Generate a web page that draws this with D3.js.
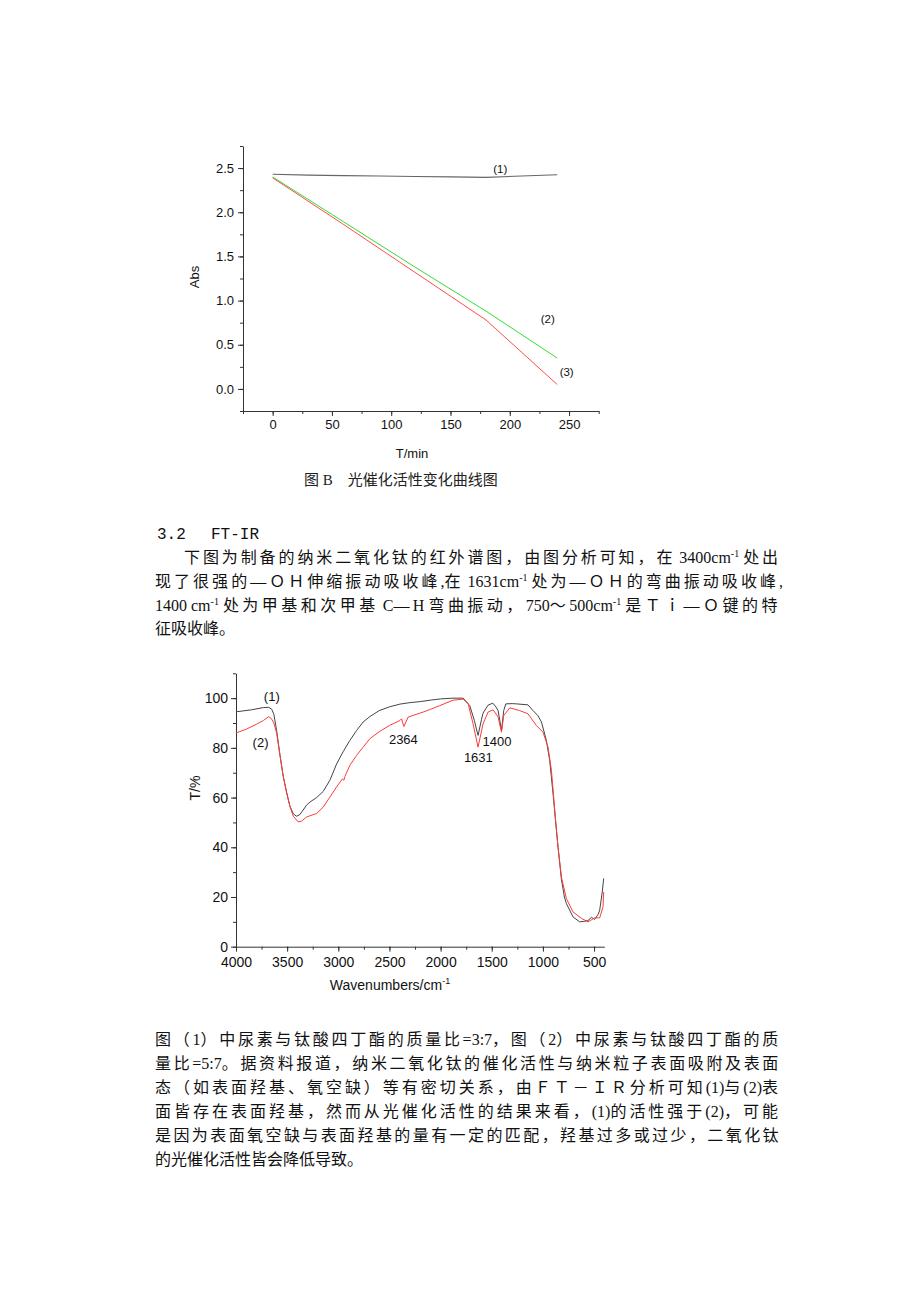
<!DOCTYPE html>
<html><head><meta charset="utf-8">
<script src="https://cdn.jsdelivr.net/npm/d3@7"></script>
<style>
body{margin:0;background:#fff;}
svg{display:block;}
</style></head>
<body>
<svg id="page" width="920" height="1302"></svg>
<script>
// ---------- Chart B data ----------
const timeMin = [0, 30, 60, 90, 120, 150, 180, 210, 240];
const abs1 = [2.43, 2.42, 2.415, 2.41, 2.405, 2.40, 2.395, 2.41, 2.425];
const time2 = [0, 60, 120, 180, 240];
const abs2 = [2.40, 1.89, 1.38, 0.88, 0.35];
const abs3 = [2.39, 1.86, 1.32, 0.78, 0.05];
const bXTicks = [0, 50, 100, 150, 200, 250];
const bYTicks = [0.0, 0.5, 1.0, 1.5, 2.0, 2.5];

// ---------- FT-IR data ----------
const wn1 = [4000,3850,3733,3680,3650,3630,3603,3570,3538,3505,3473,3440,3410,3380,3343,3310,3277,3212,3147,3082,3017,2952,2887,2821,2757,2691,2600,2500,2398,2300,2200,2100,2000,1878,1780,1715,1670,1634,1600,1585,1536,1490,1460,1438,1405,1383,1363,1300,1259,1146,1097,1050,1015,966,934,901,868,852,819,790,771,706,641,600,560,526,494,460,445,420,406];
const t1  = [94.5,95.3,96.2,96.3,95.5,93.5,87,77,68.5,62,56.5,53.5,52.5,53,55,57,58.2,60,62.5,67,73.5,78.5,83,87,90.4,92.6,95,96.5,97.6,98.2,98.6,99.2,99.7,100,100,97,91,85,91.5,94,97.2,98,96.5,95,87,95,97.7,97.8,97.7,97.3,95,93,90.5,83,75,61.6,47,40,27,20,17.4,12,10,10.2,10.5,11.8,11,13,14.7,22,27.5];
const wn2 = [4000,3900,3800,3733,3680,3650,3630,3603,3570,3538,3505,3473,3440,3392,3360,3310,3212,3147,3082,3017,2960,2945,2935,2887,2821,2757,2691,2600,2500,2398,2382,2359,2317,2171,2100,2008,1878,1780,1731,1683,1634,1585,1536,1487,1438,1405,1383,1324,1227,1146,1064,999,950,917,868,852,819,771,706,624,559,494,445,413,406];
const t2  = [86,87.5,89.5,91,92.6,91.5,90,86,77,68.5,62,56.5,52.5,50.2,50.5,52.2,53.6,56.2,60.2,64.3,67.5,67,68.5,73,77,80.3,83.7,86.5,89,91,91.7,88.6,92.4,94.4,95.5,97,99.2,99.6,97.8,89.7,80.3,89.7,94.4,95.3,92.4,86.3,93,96.1,95,93.7,89,86.3,80.3,71,47,40,28,19.4,14,11.4,10,11.6,11.6,16,22];
const irXTicks = [4000,3500,3000,2500,2000,1500,1000,500];
const irYTicks = [0,20,40,60,80,100];
const irPeaks = ["2364","1631","1400"];

// ---------- Text ----------
const para1 = [
  ["下图为制备的纳米二氧化钛的红外谱图，由图分析可知，在 3400cm","^-1"," 处出"],
  ["现了很强的—ＯＨ伸缩振动吸收峰,在 1631cm","^-1"," 处为—ＯＨ的弯曲振动吸收峰,"],
  ["1400 cm","^-1"," 处为甲基和次甲基 C—H 弯曲振动，750～500cm","^-1"," 是Ｔｉ—Ｏ键的特"],
  ["征吸收峰。"]
];
const para2 = [
  ["图（1）中尿素与钛酸四丁酯的质量比=3:7，图（2）中尿素与钛酸四丁酯的质"],
  ["量比=5:7。据资料报道，纳米二氧化钛的催化活性与纳米粒子表面吸附及表面"],
  ["态（如表面羟基、氧空缺）等有密切关系，由ＦＴ－ＩＲ分析可知(1)与(2)表"],
  ["面皆存在表面羟基，然而从光催化活性的结果来看，(1)的活性强于(2)，可能"],
  ["是因为表面氧空缺与表面羟基的量有一定的匹配，羟基过多或过少，二氧化钛"],
  ["的光催化活性皆会降低导致。"]
];

const svg = d3.select("#page");
svg.append("rect").attr("width",920).attr("height",1302).attr("fill","#fff");
const SANS = "'Liberation Sans', Arial, sans-serif";
const SERIF = "'Liberation Serif', 'Noto Sans CJK SC', serif";
const MONO = "'Liberation Mono', 'DejaVu Sans Mono', monospace";

function drawAxis(g, axis, minorAxis, fontSize){
  g.call(minorAxis).selectAll("text").remove();
  g.select(".domain").remove();
  const m = g.append("g").call(axis);
  m.selectAll("text").attr("font-family",SANS).attr("font-size",fontSize).attr("fill","#111");
  m.selectAll("line,path").attr("stroke","#333");
  g.selectAll("line").attr("stroke","#333");
  return m;
}

// ================= Chart B =================
{
  const x = d3.scaleLinear().domain([-25,275]).range([243,598.7]);
  const y = d3.scaleLinear().domain([-0.25,2.75]).range([411,146]);
  const gx = svg.append("g").attr("transform","translate(0,411)");
  drawAxis(gx, d3.axisBottom(x).tickValues(bXTicks).tickSize(5).tickSizeOuter(0).tickPadding(4),
           d3.axisBottom(x).tickValues(d3.range(-25,276,25)).tickSize(3).tickSizeOuter(0), "13px");
  const gy = svg.append("g").attr("transform","translate(243,0)");
  drawAxis(gy, d3.axisLeft(y).tickValues(bYTicks).tickFormat(d3.format(".1f")).tickSize(5).tickSizeOuter(0).tickPadding(4),
           d3.axisLeft(y).tickValues(d3.range(-0.25,2.76,0.25)).tickSize(3).tickSizeOuter(0), "13px");

  const line = d3.line().x(d=>x(d[0])).y(d=>y(d[1]));
  svg.append("path").attr("d",line(d3.zip(timeMin,abs1))).attr("fill","none").attr("stroke","#666").attr("stroke-width",1.1);
  svg.append("path").attr("d",line(d3.zip(time2,abs2))).attr("fill","none").attr("stroke","#33dd33").attr("stroke-width",1);
  svg.append("path").attr("d",line(d3.zip(time2,abs3))).attr("fill","none").attr("stroke","#ff4d4d").attr("stroke-width",1);

  const lab = (t,xx,yy)=>svg.append("text").text(t).attr("x",x(xx)).attr("y",y(yy)).attr("text-anchor","middle")
     .attr("dominant-baseline","central").attr("font-family",SANS).attr("font-size","11.5px").attr("fill","#111");
  lab("(1)",192,2.49); lab("(2)",232,0.79); lab("(3)",248,0.19);

  svg.append("text").text("Abs").attr("transform","translate(199,277) rotate(-90)").attr("text-anchor","middle")
     .attr("font-family",SANS).attr("font-size","13px").attr("fill","#111");
  svg.append("text").text("T/min").attr("x",412).attr("y",458).attr("text-anchor","middle")
     .attr("font-family",SANS).attr("font-size","13px").attr("fill","#111");
  svg.append("text").text("图 B　光催化活性变化曲线图").attr("x",304).attr("y",485)
     .attr("font-family",SERIF).attr("font-size","15px").attr("fill","#222");
}

// ================= Paragraph helper =================
const isWide = c => c.charCodeAt(0) >= 0x2000;
function writeLine(parts, x0, y0, right){
  const t = svg.append("text").attr("x",x0).attr("y",y0).attr("font-family",SERIF).attr("font-size","16px").attr("fill","#111");
  let pendingDy = 0;
  const wide = [];
  let nWide = 0;
  parts.forEach(p=>{
    if(p.startsWith("^")){
      t.append("tspan").text(p.slice(1)).attr("font-size","10px").attr("dy",-6);
      pendingDy = 6;
      return;
    }
    const runs = [];
    for(const ch of p){
      const w = isWide(ch);
      if(runs.length && runs[runs.length-1].w===w) runs[runs.length-1].s += ch;
      else runs.push({w, s:ch});
    }
    runs.forEach(r=>{
      const ts = t.append("tspan").text(r.s);
      if(pendingDy){ ts.attr("dy",pendingDy); pendingDy = 0; }
      if(r.w){ wide.push(ts); nWide += [...r.s].length; }
    });
  });
  if(right && nWide>0){
    const w = t.node().getComputedTextLength();
    const ls = (right - x0 - w) / nWide;
    wide.forEach(ts=>ts.attr("letter-spacing", ls.toFixed(3)));
  }
  return t;
}

// ================= Text paragraph 1 =================
{
  svg.append("text").text("3.2").attr("x",157).attr("y",539).attr("font-family",MONO).attr("font-size","16px").attr("fill","#111");
  svg.append("text").text("FT-IR").attr("x",211).attr("y",539).attr("font-family",MONO).attr("font-size","16px").attr("fill","#111");
  const xs = [184,155,155,155], ys = [563,587,611,634], rights=[781,783,781,null];
  para1.forEach((parts,i)=>writeLine(parts, xs[i], ys[i], rights[i]));
}

// ================= FT-IR Chart =================
{
  const x = d3.scaleLinear().domain([4000,400]).range([236,604.3]);
  const y = d3.scaleLinear().domain([0,110]).range([946.7,673.3]);
  const gx = svg.append("g").attr("transform","translate(0,946.7)");
  drawAxis(gx, d3.axisBottom(x).tickValues(irXTicks).tickFormat(d3.format("d")).tickSize(5).tickSizeOuter(0).tickPadding(5),
           d3.axisBottom(x).tickValues(d3.range(4000,399,-250)).tickSize(3).tickSizeOuter(0), "14px");
  const gy = svg.append("g").attr("transform","translate(236,0)");
  drawAxis(gy, d3.axisLeft(y).tickValues(irYTicks).tickSize(5).tickSizeOuter(0).tickPadding(3),
           d3.axisLeft(y).tickValues(d3.range(0,111,10)).tickSize(3).tickSizeOuter(0), "14px");

  const line = d3.line().x(d=>x(d[0])).y(d=>y(d[1]));
  svg.append("path").attr("d",line(d3.zip(wn1,t1))).attr("fill","none").attr("stroke","#444").attr("stroke-width",1);
  svg.append("path").attr("d",line(d3.zip(wn2,t2))).attr("fill","none").attr("stroke","#ff3b3b").attr("stroke-width",1);

  const lab = (t,px,py)=>svg.append("text").text(t).attr("x",px).attr("y",py).attr("text-anchor","middle")
     .attr("dominant-baseline","central").attr("font-family",SANS).attr("font-size","13px").attr("fill","#111");
  lab("(1)",x(3650),y(100.8)); lab("(2)",x(3760),y(82));
  const peakPos = [[2364,83.5],[1631,76],[1400,82.5]];
  irPeaks.forEach((p,i)=>lab(p, x(+p)+ (i===2?-5:0), y(peakPos[i][1])));

  svg.append("text").text("T/%").attr("transform","translate(200,788) rotate(-90)").attr("text-anchor","middle")
     .attr("font-family",SANS).attr("font-size","14px").attr("fill","#111");
  const xl = svg.append("text").attr("x",390).attr("y",990).attr("text-anchor","middle")
     .attr("font-family",SANS).attr("font-size","14px").attr("fill","#111");
  xl.append("tspan").text("Wavenumbers/cm");
  xl.append("tspan").text("-1").attr("font-size","9px").attr("dy",-6);
}

// ================= Text paragraph 2 =================
{
  const ys = [1045,1069,1093,1117,1141,1165];
  para2.forEach((parts,i)=>writeLine(parts, 155, ys[i], i<para2.length-1 ? 781 : null));
}
</script>
</body></html>
